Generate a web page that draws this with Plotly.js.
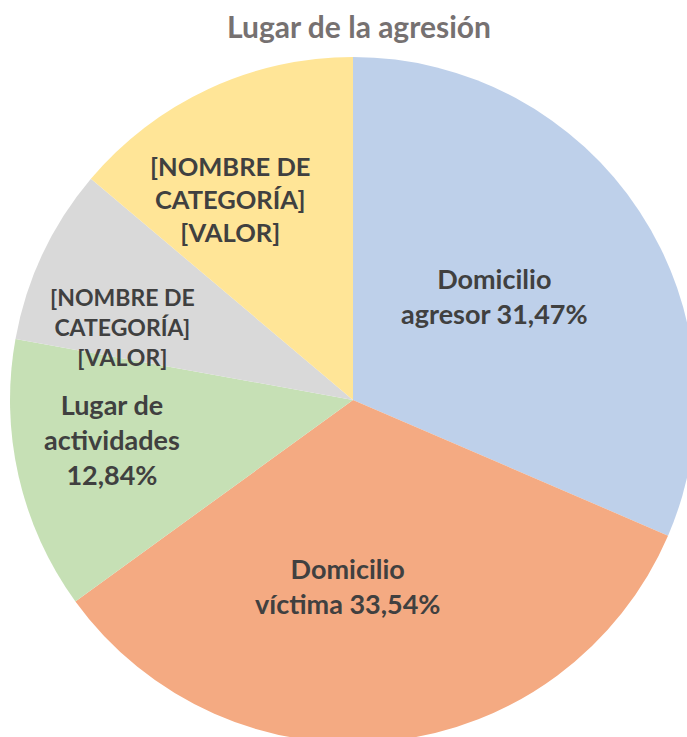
<!DOCTYPE html>
<html>
<head>
<meta charset="utf-8">
<script src="https://cdn.plot.ly/plotly-3.0.1.min.js"></script>
<style>
html, body { margin: 0; padding: 0; overflow: hidden; width: 687px; height: 737px; background: #fff; }
#chart { position: absolute; left: 0; top: 0; width: 696px; height: 743px; }
</style>
</head>
<body>
<div id="chart"></div>
<script>
const categories = ["Domicilio agresor", "Domicilio víctima", "Lugar de actividades", "Categoría 4", "Categoría 5"];
const labelLines = ["Domicilio<br>agresor", "Domicilio<br>víctima", "Lugar de<br>actividades<br>", "[NOMBRE DE<br>CATEGORÍA]<br>[VALOR]", "[NOMBRE DE<br>CATEGORÍA]<br>[VALOR]"];
const values = [31.47, 33.54, 12.84, 8.31, 13.84];
const showValue = [true, true, true, false, false];
const colors = ["#BED0EA", "#F4AA82", "#C6E0B5", "#D9D9D9", "#FFE597"];
const titleText = "Lugar de la agresión";

// label styling and placement (paper coordinates of each label's centre)
const labelSizes = [27, 27, 27, 23, 25.5];
const labelPos = [[0.706, 0.652], [0.4913, 0.2289], [0.1487, 0.4417], [0.1633, 0.6064], [0.3207, 0.793]];

const texts = categories.map((c, i) => showValue[i]
  ? labelLines[i] + (labelLines[i].endsWith("<br>") ? "" : " ") + values[i].toFixed(2).replace(".", ",") + "%"
  : labelLines[i]);

const font = "Lato, 'Open Sans', sans-serif";

const trace = {
  type: "pie",
  labels: categories,
  values: values,
  textinfo: "none",
  textposition: "none",
  sort: false,
  direction: "clockwise",
  rotation: 0,
  marker: { colors: colors, line: { width: 0 } },
  hoverinfo: "none",
  showlegend: false
};

const annotations = labelPos.map((p, i) => ({
  text: "<b>" + texts[i] + "</b>",
  xref: "paper", yref: "paper", x: p[0], y: p[1],
  xanchor: "center", yanchor: "middle", align: "center",
  showarrow: false,
  font: { family: font, size: labelSizes[i], color: "#404040" }
}));

const layout = {
  width: 696,
  height: 743,
  margin: { l: 10, r: 0, t: 57, b: 0 },
  paper_bgcolor: "#ffffff",
  title: {
    text: "<b>" + titleText + "</b>",
    font: { family: font, size: 30, color: "#767171" },
    xref: "container", x: 359 / 696, xanchor: "center",
    yref: "container", y: 1 - 27 / 743, yanchor: "middle"
  },
  annotations: annotations,
  separators: ",."
};

Plotly.newPlot("chart", [trace], layout, { displayModeBar: false, staticPlot: true });
</script>
</body>
</html>
